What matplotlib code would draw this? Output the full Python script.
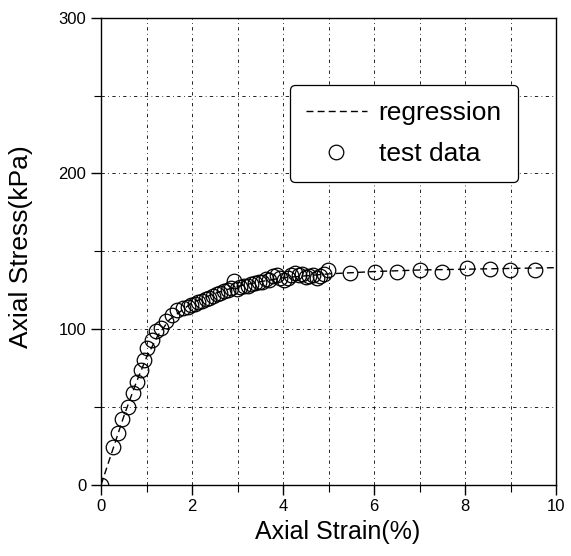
import matplotlib.pyplot as plt
from matplotlib.ticker import MultipleLocator

plt.rcParams['font.family'] = ['Liberation Sans', 'DejaVu Sans']

# test data
strain = [0.0, 0.26, 0.37, 0.46, 0.59, 0.70, 0.78, 0.87, 0.95, 1.02, 1.11, 1.21,
          1.32, 1.43, 1.55, 1.66, 1.81, 1.90, 1.98, 2.06, 2.14, 2.22, 2.30, 2.38,
          2.46, 2.54, 2.62, 2.70, 2.78, 2.86, 2.92, 2.98, 3.06, 3.14, 3.22, 3.30,
          3.38, 3.46, 3.54, 3.62, 3.70, 3.78, 3.86, 3.94, 4.02, 4.10, 4.18, 4.26,
          4.34, 4.42, 4.50, 4.58, 4.66, 4.74, 4.82, 4.90, 4.98, 5.47, 6.02, 6.50,
          7.01, 7.49, 8.04, 8.55, 8.99, 9.54]
stress = [0.0, 24.5, 33, 42, 50, 59, 66, 74, 80, 88, 93, 98.5,
          101, 105, 109, 112, 113.5, 114, 115.5, 116, 117.5, 118, 119.5, 120,
          121, 122.5, 123, 124.5, 125, 126.5, 131, 126, 127, 128, 127.5, 129,
          129.5, 130.5, 130, 132, 131.5, 134, 135, 133, 131.5, 133, 135, 136,
          134.5, 135.5, 133.5, 134, 135, 133, 134, 135.5, 138, 136, 136.4, 137,
          138, 137, 139.5, 138.5, 138, 138]

# regression curve
reg_strain = [0, 0.25, 0.5, 0.75, 1.0, 1.25, 1.5, 2.0, 2.5, 3.0, 3.5, 4.0, 5.0,
              6.0, 7.0, 8.0, 9.0, 10.0]
reg_stress = [0, 22, 44, 64, 82, 96, 106, 117, 123, 127.5, 130.5, 133, 135.5,
              137, 138, 138.5, 139, 139.5]

fig = plt.figure(figsize=(5.71, 5.56), dpi=100)
ax = fig.add_axes([0.177, 0.128, 0.797, 0.840])

ax.plot(reg_strain, reg_stress, color='black', linestyle=(0, (5, 3)), linewidth=1.0,
        label='regression', zorder=2)
ax.plot(strain, stress, linestyle='none', marker='o', markersize=10.5,
        markerfacecolor='none', markeredgecolor='black', markeredgewidth=0.9,
        label='test data', zorder=3)

ax.set_xlim(0, 10)
ax.set_ylim(0, 300)
ax.xaxis.set_major_locator(MultipleLocator(2))
ax.xaxis.set_minor_locator(MultipleLocator(1))
ax.yaxis.set_major_locator(MultipleLocator(100))
ax.yaxis.set_minor_locator(MultipleLocator(50))

ax.grid(which='both', color='black', linestyle=(0, (4, 4, 1, 4)), linewidth=0.6)
ax.tick_params(which='major', direction='out', length=7, width=1, labelsize=12,
               top=False, right=False)
ax.tick_params(which='minor', direction='out', length=5, width=0.8,
               top=False, right=False)
for s in ax.spines.values():
    s.set_linewidth(1.0)

ax.set_xlabel('Axial Strain(%)', fontsize=18)
ax.set_ylabel('Axial Stress(kPa)', fontsize=19)
ax.xaxis.set_label_coords(0.519, -0.075)
ax.yaxis.set_label_coords(-0.149, 0.51)

leg = ax.legend(loc='upper right', bbox_to_anchor=(0.9165, 0.8565), fontsize=19,
                frameon=True, fancybox=True, edgecolor='black', framealpha=1,
                handlelength=2.3, handletextpad=0.45, borderpad=0.62,
                labelspacing=0.64, borderaxespad=0)
leg.get_frame().set_linewidth(0.9)

plt.savefig('out.png', dpi=100)
